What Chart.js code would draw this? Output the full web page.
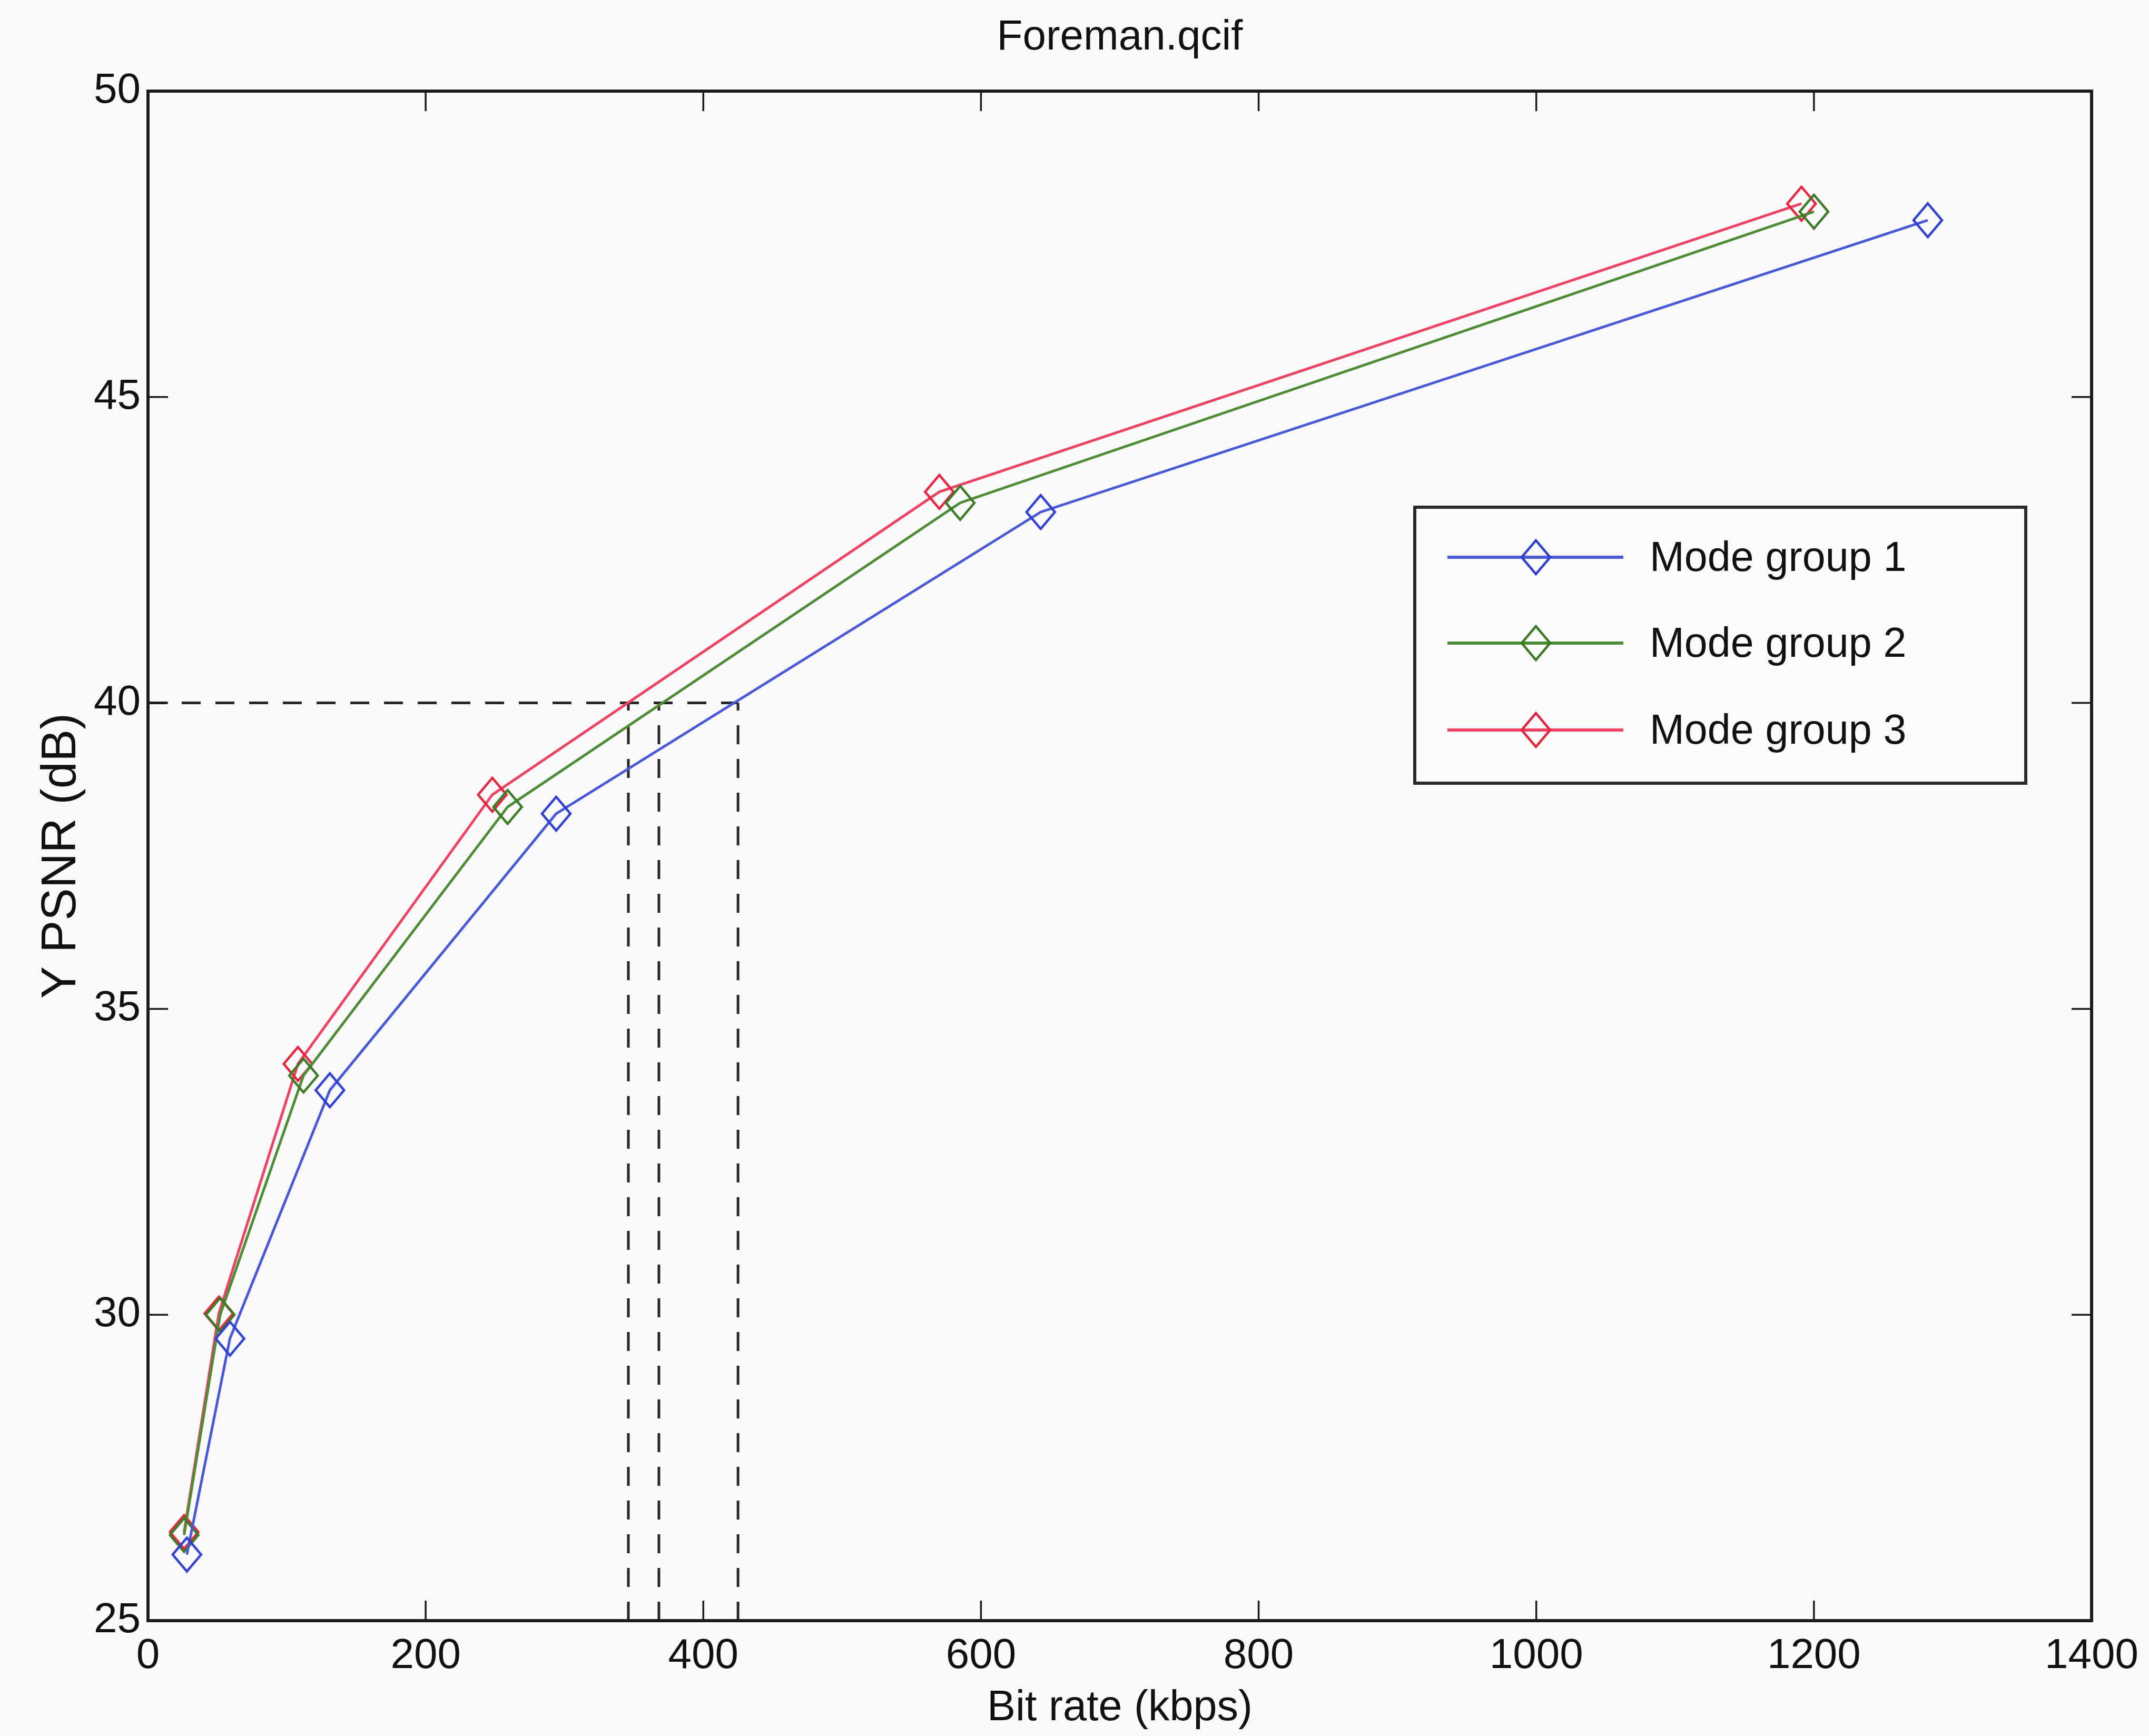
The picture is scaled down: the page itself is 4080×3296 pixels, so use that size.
<!DOCTYPE html>
<html>
<head>
<meta charset="utf-8">
<title>Foreman.qcif</title>
<script src="https://cdn.jsdelivr.net/npm/chart.js@4.4.1/dist/chart.umd.min.js"></script>
<style>
  html, body { margin: 0; padding: 0; background: #faf9fb; }
  canvas { display: block; }
</style>
</head>
<body>
<canvas id="rdChart" width="4080" height="3296"></canvas>
<script>
// Foreman.qcif - R-D curves of the three mode groups
const chartTitle = 'Foreman.qcif';
const seriesNames = ['Mode group 1', 'Mode group 2', 'Mode group 3'];

const bitrate1 = [28, 59, 131, 294, 643, 1282];
const psnr1 = [26.08, 29.61, 33.67, 38.19, 43.12, 47.89];

const bitrate2 = [26, 52, 112, 259, 585, 1200];
const psnr2 = [26.40, 30.00, 33.91, 38.30, 43.27, 48.03];

const bitrate3 = [26, 51, 108, 248, 570, 1191];
const psnr3 = [26.45, 30.02, 34.10, 38.50, 43.45, 48.16];

// bit rate of each group at Y PSNR = 40 dB (dashed guides)
const targetPsnr = 40;
const crossRates = [425, 368, 346];

const xTicks = [0, 200, 400, 600, 800, 1000, 1200, 1400];
const yTicks = [25, 30, 35, 40, 45, 50];

const lineColors = ['#4a5ad6', '#4e8c36', '#ec4462'];
const markColors = ['#3040cc', '#3b7a24', '#e2243f'];
const FONT = '"Liberation Sans", Arial, Helvetica, sans-serif';

// hollow diamond marker, a little taller than wide like the matlab one
function diamond(color) {
	const c = document.createElement('canvas');
	c.width = 60; c.height = 70;
	const g = c.getContext('2d');
	g.strokeStyle = color;
	g.lineWidth = 4.5;
	g.beginPath();
	g.moveTo(30, 3); g.lineTo(57, 35); g.lineTo(30, 67); g.lineTo(3, 35);
	g.closePath();
	g.stroke();
	return c;
}

function points(xs, ys) {
	return xs.map((v, i) => ({ x: v, y: ys[i] }));
}

const curves = [[bitrate1, psnr1], [bitrate2, psnr2], [bitrate3, psnr3]];
const datasets = curves.map((c, i) => ({
	label: seriesNames[i],
	data: points(c[0], c[1]),
	showLine: true,
	borderColor: lineColors[i],
	borderWidth: 5,
	pointStyle: diamond(markColors[i]),
	pointRadius: 30,
	pointHoverRadius: 30
}));

// dashed guides
const guide = {
	showLine: true, borderColor: '#262626', borderWidth: 5,
	borderDash: [36, 28], pointRadius: 0, guide: true
};
datasets.push(Object.assign({}, guide, {
	data: [{ x: xTicks[0], y: targetPsnr }, { x: Math.max(...crossRates), y: targetPsnr }]
}));
crossRates.forEach(r => {
	datasets.push(Object.assign({}, guide, {
		data: [{ x: r, y: yTicks[0] }, { x: r, y: targetPsnr }]
	}));
});

const framePlugin = {
	id: 'frame',
	beforeDraw(chart) {
		const ctx = chart.ctx;
		ctx.save();
		ctx.fillStyle = '#faf9fb';
		ctx.fillRect(0, 0, chart.width, chart.height);
		ctx.restore();
	},
	afterDraw(chart) {
		const ctx = chart.ctx;
		const a = chart.chartArea;
		const x = chart.scales.x, y = chart.scales.y;
		const len = 38;
		ctx.save();

		// ticks pointing inwards on all four sides
		ctx.strokeStyle = '#1c1c1c';
		ctx.lineWidth = 3.5;
		ctx.beginPath();
		x.ticks.forEach(t => {
			const px = x.getPixelForValue(t.value);
			ctx.moveTo(px, a.bottom); ctx.lineTo(px, a.bottom - len);
			ctx.moveTo(px, a.top); ctx.lineTo(px, a.top + len);
		});
		y.ticks.forEach(t => {
			const py = y.getPixelForValue(t.value);
			ctx.moveTo(a.left, py); ctx.lineTo(a.left + len, py);
			ctx.moveTo(a.right, py); ctx.lineTo(a.right - len, py);
		});
		ctx.stroke();

		ctx.lineWidth = 6;
		ctx.strokeRect(a.left, a.top, a.right - a.left, a.bottom - a.top);

		// title
		ctx.fillStyle = '#111';
		ctx.font = '80px ' + FONT;
		ctx.textAlign = 'center';
		ctx.textBaseline = 'middle';
		ctx.fillText(chartTitle, (a.left + a.right) / 2, 72);

		// legend box
		const bx = 2686, by = 963, bw = 1160, bh = 524;
		ctx.fillStyle = '#fbfafc';
		ctx.fillRect(bx, by, bw, bh);
		ctx.strokeStyle = '#2a2a2a';
		ctx.lineWidth = 6;
		ctx.strokeRect(bx, by, bw, bh);
		const rows = [1058, 1221, 1386];
		ctx.font = '79px ' + FONT;
		ctx.textAlign = 'left';
		chart.data.datasets.filter(d => !d.guide).forEach((d, i) => {
			const ry = rows[i];
			ctx.strokeStyle = d.borderColor;
			ctx.lineWidth = 6;
			ctx.beginPath();
			ctx.moveTo(2748, ry); ctx.lineTo(3082, ry);
			ctx.stroke();
			const m = d.pointStyle;
			ctx.drawImage(m, 2916 - m.width / 2, ry - m.height / 2);
			ctx.fillStyle = '#111';
			ctx.fillText(d.label, 3132, ry + 4);
		});
		ctx.restore();
	}
};

new Chart(document.getElementById('rdChart'), {
	type: 'scatter',
	data: { datasets: datasets },
	options: {
		responsive: false,
		animation: false,
		devicePixelRatio: 1,
		layout: { padding: { top: 173, right: 107, left: 0, bottom: 0 } },
		plugins: {
			legend: { display: false },
			tooltip: { enabled: false },
			title: { display: false }
		},
		scales: {
			x: {
				type: 'linear',
				min: xTicks[0],
				max: xTicks[xTicks.length - 1],
				afterBuildTicks: s => { s.ticks = xTicks.map(v => ({ value: v })); },
				afterFit: s => { s.height = 219; },
				grid: { display: false, drawTicks: false },
				border: { display: false },
				ticks: {
					padding: 20,
					color: '#111',
					font: { family: FONT, size: 80 },
					callback: v => String(v)
				},
				title: {
					display: true,
					text: 'Bit rate (kbps)',
					color: '#111',
					font: { family: FONT, size: 81 },
					padding: { top: 0, bottom: 4 }
				}
			},
			y: {
				type: 'linear',
				min: yTicks[0],
				max: yTicks[yTicks.length - 1],
				afterBuildTicks: s => { s.ticks = yTicks.map(v => ({ value: v })); },
				afterFit: s => { s.width = 281; },
				grid: { display: false, drawTicks: false },
				border: { display: false },
				ticks: {
					padding: 14,
					color: '#111',
					font: { family: FONT, size: 80 },
					callback: v => String(v)
				},
				title: {
					display: true,
					text: 'Y PSNR (dB)',
					color: '#111',
					font: { family: FONT, size: 92 },
					padding: { top: 62, bottom: 0 }
				}
			}
		}
	},
	plugins: [framePlugin]
});
</script>
</body>
</html>
